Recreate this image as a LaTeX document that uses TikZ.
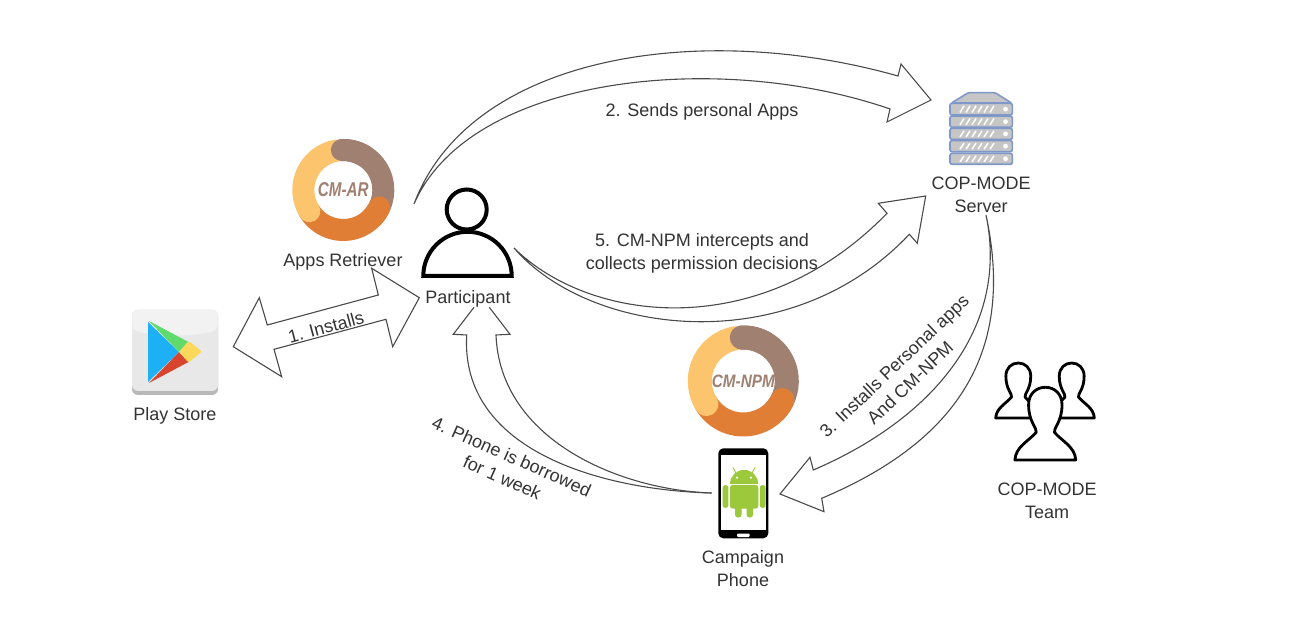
\documentclass[tikz,border=0pt]{standalone}
\usepackage{fontspec}
\setmainfont{Liberation Sans}
\definecolor{txt}{HTML}{333333}
\definecolor{fat}{HTML}{4A4A4A}
\definecolor{dyellow}{HTML}{FCC46C}
\definecolor{dbrown}{HTML}{A08070}
\definecolor{dorange}{HTML}{E17E36}
\definecolor{srvblue}{HTML}{7F98C9}
\definecolor{srvgrey}{HTML}{C6C6C6}
\definecolor{droid}{HTML}{9CC83C}
\definecolor{psblue}{HTML}{1EB0F5}
\definecolor{psgreen}{HTML}{5FDB6E}
\definecolor{psred}{HTML}{D8452F}
\definecolor{psyellow}{HTML}{FCD95A}
\tikzset{
  lbl/.style={font=\fontsize{18}{23}\selectfont,text=txt,align=center,inner sep=0pt},
  fatarrow/.style={draw=fat,line width=1.1pt,line join=miter},
  personline/.style={draw=black,line width=4pt},
  teamline/.style={draw=black,line width=2.8pt,fill=white,line join=round},
  srvunit/.style={draw=srvblue,line width=1.6pt,fill=srvgrey,rounded corners=2pt},
  ring/.style={line cap=round},
  ringtxt/.style={text=dbrown,inner sep=0pt}
}
\newcommand\donutring[4]{%
  \begin{scope}[shift={(#1,#2)}]
    \draw[color=dbrown,line width=#4pt] (95:#3pt) arc[start angle=95,end angle=-45,radius=#3pt];
    \draw[ring,color=dorange,line width=#4pt] (-26:#3pt) arc[start angle=-26,end angle=-150,radius=#3pt];
    \draw[ring,color=dyellow,line width=#4pt] (100:#3pt) arc[start angle=100,end angle=212,radius=#3pt];
    \draw[ring,color=dbrown,line width=#4pt] (92:#3pt) arc[start angle=92,end angle=60,radius=#3pt];
  \end{scope}}
\newcommand\teamperson[4]{%
  \begin{scope}[shift={(#1,#2)},x=#3pt,y=-#4pt]
    \draw[teamline] (-1,1) -- (1,1) .. controls (.98,.82) and (.55,.74) .. (.3,.62)
      .. controls (.26,.56) and (.55,.48) .. (.55,.24) .. controls (.55,.09) and (.3,0) .. (0,0)
      .. controls (-.3,0) and (-.55,.09) .. (-.55,.24) .. controls (-.55,.48) and (-.26,.56) .. (-.3,.62)
      .. controls (-.55,.74) and (-.98,.82) .. (-1,1) -- cycle;
  \end{scope}}
\begin{document}
\begin{tikzpicture}[x=1pt,y=-1pt]
\useasboundingbox[fill=white] (0,0) rectangle (1304,617);

% ---- play store icon
\fill[color=black!28,rounded corners=6pt] (132,310) rectangle (218,395);
\fill[color=black!9,rounded corners=6pt] (132,310) rectangle (218,391);
\fill[color=black!5,rounded corners=6pt] (132,310) -- (218,310) -- (218,330) .. controls (190,337) and (160,337) .. (132,330) -- cycle;
\fill[color=psblue] (148,322) -- (179,352) -- (148,382) -- cycle;
\fill[color=psgreen] (149,321) -- (188.5,342) -- (179,352) -- cycle;
\fill[color=psred] (149,383) -- (179,352) -- (188.5,362) -- cycle;
\fill[color=psyellow,rounded corners=2pt] (179,352) -- (188.5,341) -- (202,351.5) -- (188.5,362.5) -- cycle;

% ---- donuts
\donutring{343.3}{190}{40}{22}
\node[ringtxt,font=\bfseries\itshape\fontsize{20}{20}\selectfont,xscale=.76] (cmar) at (343.3,190) {CM-AR};
\donutring{743.3}{381}{43.5}{24}
\node[ringtxt,font=\bfseries\itshape\fontsize{18}{18}\selectfont,xscale=.85] (cmnpm) at (743.3,381) {CM-NPM};

% ---- participant
\draw[personline] (466.7,209.5) circle[radius=20pt];
\draw[personline,line join=miter] (423.3,276) arc[start angle=180,end angle=0,radius=44.2pt] -- cycle;

% ---- server
\draw[srvunit,fill=srvgrey,rounded corners=1pt] (951.5,103) -- (968.3,92.7) -- (995,92.7) -- (1011.5,103) -- cycle;
\foreach \ya/\yb in {103.3/115,116/127.3,128.3/139.5,140.7/151.7,153.3/164.3}{
  \draw[srvunit] (950,\ya) rectangle (1012.3,\yb);
  \foreach \sx in {960,966,972,978,984,990}{
    \draw[white,line width=1.5pt] (\sx,\yb-2.5) -- (\sx+4,\ya+2.5);
  }
  \fill[white] (1005.5,{(\ya+\yb)/2}) circle[radius=2.4pt];
}

% ---- team
\teamperson{1018.3}{363}{22.6}{55}
\teamperson{1071.7}{363}{22.6}{55}
\teamperson{1045.3}{387.3}{30.4}{72.7}

% ---- phone
\fill[black,rounded corners=5pt] (718.3,448.3) rectangle (768.3,538.3);
\fill[white] (721,455) rectangle (765.6,530);
\fill[white,rounded corners=1pt] (737,533.5) rectangle (749.5,537);
\draw[color=droid,line width=.9pt] (736,473) -- (733,467.5) (752,473) -- (755,467.5);
\fill[droid] (730,484) arc[start angle=180,end angle=0,radius=14.1pt] -- cycle;
\fill[white] (737,477.6) circle[radius=1.3pt] (751,477.6) circle[radius=1.3pt];
\fill[droid,rounded corners=2.5pt] (730,485) rectangle (758.3,508.5);
\fill[droid,rounded corners=2.8pt] (722.6,485) rectangle (728.4,508);
\fill[droid,rounded corners=2.8pt] (759.8,485) rectangle (765.6,508);
\fill[droid,rounded corners=2.8pt] (735,500) rectangle (741.5,517.5);
\fill[droid,rounded corners=2.8pt] (746.5,500) rectangle (753,517.5);

% ---- connector end points
\coordinate (pTail) at (414,204);
\coordinate (sTip) at (931,100);
\coordinate (pTailB) at (514,248);
\coordinate (sTipB) at (925.7,196);
\coordinate (sTail) at (986,215);
\coordinate (cTip) at (780,494);
\coordinate (cTail) at (711.5,493);
\coordinate (psTip) at (233.3,346.7);
\coordinate (ppTip) at (419.3,297.7);

% ---- 1. Installs
\draw[fatarrow] (psTip) -- (259.3,297.7) -- (267.3,325) -- (378.3,295) -- (371.7,268.3) -- (ppTip)
  -- (392.7,346.7) -- (386,319.3) -- (274,349.3) -- (281.7,376.7) -- cycle;
% ---- 2. Sends
\draw[fatarrow] (pTail) .. controls (470,55) and (700,20) .. (898,76) -- (901,64) -- (sTip) -- (887,122) -- (890,109)
  .. controls (720,50) and (470,75) .. (pTail);
% ---- 5. CM-NPM
\draw[fatarrow] (pTailB) .. controls (590,323) and (760,344) .. (887,213.3) -- (878.3,203.3) -- (sTipB) -- (917.3,243.3) -- (909.3,234.3)
  .. controls (790,361) and (590,336) .. (pTailB);
% ---- 3. Installs
\draw[fatarrow] (sTail) .. controls (1010,330) and (930,420) .. (813.3,470) -- (810,457.3) -- (cTip) -- (824,511.7) -- (821.7,498.3)
  .. controls (960,440) and (1015,350) .. (sTail);
% ---- 4. Phone
\draw[fatarrow] (cTail) .. controls (600,490) and (460,450) .. (466.7,335) -- (453.3,334.3) -- (474,307.3);
\draw[fatarrow] (489.3,307.3) -- (510,334.3) -- (496,335) .. controls (500,440) and (620,490) .. (cTail);

% ---- labels
\node[lbl] (playstore) at (175,416) {Play Store};
\node[lbl] (appsret) at (343,262) {Apps Retriever};
\node[lbl] (participant) at (468,299) {Participant};
\node[lbl] (server) at (981,194.5) {COP-MODE\\Server};
\node[lbl] (team) at (1047,500.5) {COP-MODE\\Team};
\node[lbl] (phone) at (743,568.5) {Campaign\\Phone};
\node[lbl,rotate=15] (lab1) at (326,327) {1. Installs};
\node[lbl] (lab2) at (702,112) {2. Sends personal Apps};
\node[lbl,rotate=43.5] (lab3) at (902,374.5) {3. Installs Personal apps\\And CM-NPM};
\node[lbl,rotate=-24] (lab4) at (507,467) {4. Phone is borrowed\\for 1 week};
\node[lbl] (lab5) at (702,253.5) {5. CM-NPM intercepts and\\collects permission decisions};
\end{tikzpicture}
\end{document}
